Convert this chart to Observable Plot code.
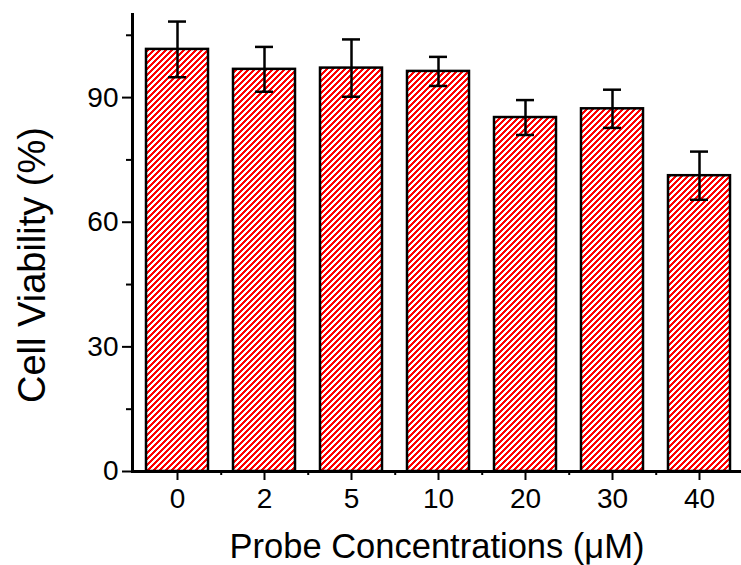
<!DOCTYPE html>
<html>
<head>
<meta charset="utf-8">
<script src="https://cdn.jsdelivr.net/npm/d3@7"></script>
<script src="https://cdn.jsdelivr.net/npm/@observablehq/plot@0.6"></script>
<style>
  html, body { margin: 0; padding: 0; background: #fff; }
  #chart svg { display: block; }
</style>
</head>
<body>
<div id="chart"></div>
<script>
const categories = ["0", "2", "5", "10", "20", "30", "40"];
const viability = [101.6, 96.8, 97.1, 96.3, 85.2, 87.3, 71.2];
const errors = [6.7, 5.4, 6.9, 3.5, 4.2, 4.6, 5.8];
const yTicks = [0, 30, 60, 90];
const yMinorTicks = [15, 45, 75, 105];
const xTitle = "Probe Concentrations (μM)";
const yTitle = "Cell Viability (%)";

const data = categories.map((c, i) => ({c, v: viability[i], e: errors[i]}));

const W = 741, H = 565, ML = 132, MR = 0, MT = 14, MB = 94;
const xRange = [ML, 744];
const step = (xRange[1] - xRange[0]) / categories.length;

const font = "'Liberation Sans', Arial, Helvetica, sans-serif";

const chart = Plot.plot({
  width: W, height: H,
  marginLeft: ML, marginRight: MR, marginTop: MT, marginBottom: MB,
  style: {fontFamily: font, color: "black", background: "white", overflow: "visible"},
  x: {domain: categories, range: xRange, paddingInner: 0.29, paddingOuter: 0.145, axis: null},
  y: {domain: [0, 110], axis: null},
  marks: [
    Plot.barY(data, {x: "c", y: "v", fill: "url(#hatch)", stroke: "black", strokeWidth: 2.5}),
    Plot.ruleX(data, {x: "c", y1: d => d.v - d.e, y2: d => d.v + d.e, stroke: "black", strokeWidth: 2.5}),
    Plot.tickY(data, {x: "c", y: d => d.v + d.e, insetLeft: 22, insetRight: 22, stroke: "black", strokeWidth: 2.5}),
    Plot.tickY(data, {x: "c", y: d => d.v - d.e, insetLeft: 22, insetRight: 22, stroke: "black", strokeWidth: 2.5}),
    // y axis
    Plot.axisY({ticks: yTicks, tickSize: 10, tickPadding: 4, fontSize: 28, strokeWidth: 2, label: null}),
    Plot.axisY({ticks: yMinorTicks, tickSize: 6, text: null, strokeWidth: 2, label: null}),
    Plot.frame({anchor: "left", strokeWidth: 3}),
    // x axis
    Plot.axisX({tickSize: 9, tickPadding: 8, fontSize: 28, strokeWidth: 2, label: null}),
    Plot.axisX({tickSize: 4, text: null, strokeWidth: 2, dx: step / 2, label: null}),
    Plot.ruleY([0], {strokeWidth: 3}),
    // titles
    Plot.text([xTitle], {frameAnchor: "bottom", dy: 75, textAnchor: "middle", lineAnchor: "middle", fontSize: 34.5}),
    Plot.text([yTitle], {frameAnchor: "left", dx: -100, dy: 22, rotate: -90, textAnchor: "middle", lineAnchor: "middle", fontSize: 38})
  ]
});

const svg = d3.select(chart);
const defs = svg.insert("defs", ":first-child");
const pat = defs.append("pattern")
  .attr("id", "hatch")
  .attr("patternUnits", "userSpaceOnUse")
  .attr("width", 6).attr("height", 6);
pat.append("rect").attr("width", 6).attr("height", 6).attr("fill", "white");
pat.append("path")
  .attr("d", "M-1,7 L7,-1 M-4,4 L4,-4 M2,10 L10,2")
  .attr("stroke", "#ff0000")
  .attr("stroke-width", 1.5)
  .attr("shape-rendering", "crispEdges");

document.getElementById("chart").appendChild(chart);
</script>
</body>
</html>
